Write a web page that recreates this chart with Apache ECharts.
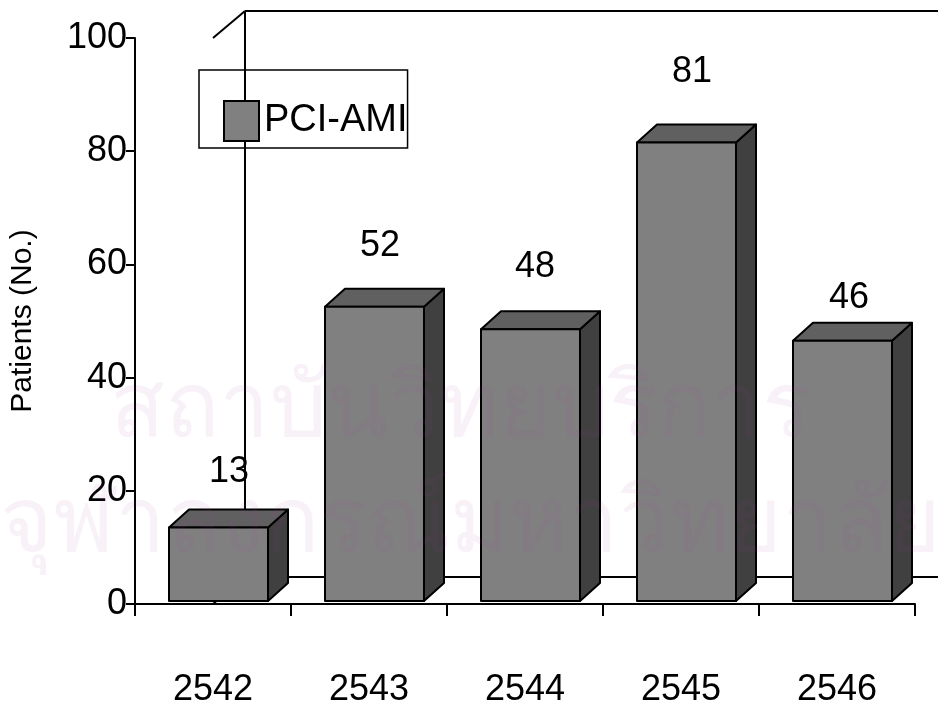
<!DOCTYPE html>
<html>
<head>
<meta charset="utf-8">
<style>html,body{margin:0;padding:0;background:#fff}#chart{width:938px;height:708px}</style>
<script src="https://cdn.jsdelivr.net/npm/echarts@6/dist/echarts.min.js"></script>
</head>
<body>
<div id="chart"></div>
<script>
const years = ['2542', '2543', '2544', '2545', '2546'];
const patients = [13, 52, 48, 81, 46];
const yTicks = { min: 0, max: 100, interval: 20 };
const seriesName = 'PCI-AMI';
const axisTitle = 'Patients (No.)';

// label nudges away from each bar, in pixels: rightwards and upwards
const labelShiftX = [16, 11, 10, 11, 12];
const labelLift = [55, 61, 62, 70, 43];

const FONT = '"Liberation Sans", Arial, sans-serif';
const FLOOR_DX = 32, FLOOR_DY = 27;    // depth of the chart box
const BAR_DX = 20, BAR_DY = 18;        // depth of each column
const BAR_WIDTH = 99, SHIFT_X = 5.5, SHIFT_Y = 3;

const grid = { left: 127, top: 38, width: 788, height: 567 };
const chart = echarts.init(document.getElementById('chart'), null, { renderer: 'canvas' });

// One extruded column: front face, lit top and shaded side.
function renderColumn(params, api) {
  const base = api.coord([api.value(0), 0]);
  const top = api.coord([api.value(0), api.value(1)]);
  const x0 = base[0] - BAR_WIDTH / 2 + SHIFT_X, x1 = x0 + BAR_WIDTH;
  const y0 = base[1] - SHIFT_Y, y1 = top[1] - SHIFT_Y;
  const line = { stroke: '#000', lineWidth: 2, lineJoin: 'round' };
  const poly = (points, fill) => ({
    type: 'polygon', shape: { points }, style: Object.assign({ fill }, line)
  });
  return {
    type: 'group',
    children: [
      poly([[x1, y0], [x1 + BAR_DX, y0 - BAR_DY], [x1 + BAR_DX, y1 - BAR_DY], [x1, y1]], '#404040'),
      poly([[x0, y1], [x0 + BAR_DX, y1 - BAR_DY], [x1 + BAR_DX, y1 - BAR_DY], [x1, y1]], '#606060'),
      poly([[x0, y0], [x1, y0], [x1, y1], [x0, y1]], '#808080'),
      {
        type: 'text',
        style: {
          text: String(api.value(1)),
          x: base[0] + labelShiftX[params.dataIndex],
          y: top[1] - SHIFT_Y - labelLift[params.dataIndex],
          align: 'center', verticalAlign: 'middle',
          font: '36px ' + FONT, fill: '#000'
        }
      }
    ]
  };
}

// Chart box behind the columns: back wall edges, floor and corner joints.
function renderBox(params, api) {
  const bl = api.coord([-0.5, 0]);
  const tl = api.coord([-0.5, 100]);
  const right = api.coord([4.5, 0])[0];
  const s = { stroke: '#000', lineWidth: 2, fill: null };
  const seg = (x1, y1, x2, y2) => ({ type: 'line', shape: { x1, y1, x2, y2 }, style: s });
  const bx = bl[0] + FLOOR_DX;
  return {
    type: 'group',
    children: [
      seg(bl[0], bl[1], bx, bl[1] - FLOOR_DY),
      seg(tl[0], tl[1], bx, tl[1] - FLOOR_DY),
      seg(bx, tl[1] - FLOOR_DY, 938, tl[1] - FLOOR_DY),
      seg(bx, tl[1] - FLOOR_DY, bx, bl[1] - FLOOR_DY),
      seg(bx, bl[1] - FLOOR_DY, 938, bl[1] - FLOOR_DY),
      seg(right, bl[1], right + FLOOR_DX, bl[1] - FLOOR_DY)
    ]
  };
}

chart.setOption({
  animation: false,
  backgroundColor: '#fff',
  grid,
  legend: {
    left: 199, top: 70, width: 219, height: 77,
    orient: 'horizontal',
    padding: [30, 0, 6, 24],
    borderColor: '#000', borderWidth: 1.5,
    itemWidth: 35, itemHeight: 40, itemGap: 0,
    icon: 'rect',
    data: [{ name: seriesName, itemStyle: { color: '#808080', borderColor: '#000', borderWidth: 2 } }],
    textStyle: { fontFamily: FONT, fontSize: 38, color: '#000', padding: [14, 0, 0, 0] }
  },
  xAxis: {
    type: 'category', data: years,
    axisLine: { lineStyle: { color: '#000', width: 2 } },
    axisTick: { show: true, length: 12, lineStyle: { color: '#000', width: 2 }, alignWithLabel: false },
    axisLabel: { fontFamily: FONT, fontSize: 36, color: '#000', margin: 68 }
  },
  yAxis: {
    type: 'value', min: yTicks.min, max: yTicks.max, interval: yTicks.interval,
    name: axisTitle, nameLocation: 'middle', nameGap: 97, nameRotate: 90,
    nameTextStyle: { fontFamily: FONT, fontSize: 30, color: '#000' },
    splitLine: { show: false },
    axisLine: { show: true, lineStyle: { color: '#000', width: 2 } },
    axisTick: { show: true, length: 9, lineStyle: { color: '#000', width: 2 } },
    axisLabel: { fontFamily: FONT, fontSize: 36, color: '#000', margin: 8 }
  },
  series: [
    { type: 'custom', silent: true, renderItem: renderBox, data: [[0, 0]], z: 1, clip: false, legendHoverLink: false },
    { type: 'custom', name: seriesName, renderItem: renderColumn, data: years.map((y, i) => [i, patients[i]]),
      encode: { x: 0, y: 1 }, itemStyle: { color: '#808080' }, z: 2, clip: false }
  ],
  graphic: [
    { type: 'text', z: 50, silent: true, left: 110, top: 365,
      style: { text: 'สถาบันวิทยบริการ', font: '90px "Noto Sans", sans-serif', fill: 'rgba(150,60,150,0.07)' } },
    { type: 'text', z: 50, silent: true, left: 0, top: 480,
      style: { text: 'จุฬาลงกรณ์มหาวิทยาลัย', font: '90px "Noto Sans", sans-serif', fill: 'rgba(150,60,150,0.07)' } }
  ]
});
</script>
</body>
</html>
